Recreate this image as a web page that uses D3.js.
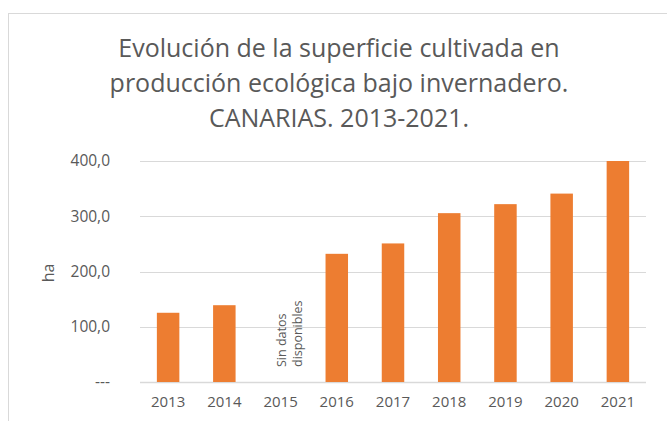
<!DOCTYPE html>
<html>
<head>
<meta charset="utf-8">
<script src="https://cdn.jsdelivr.net/npm/d3@7"></script>
<style>
  body { margin: 0; background: #fff; }
  svg text { font-family: "Open Sans", "Noto Sans", sans-serif; fill: #595959; }
</style>
</head>
<body>
<div id="chart"></div>
<script>
var years = ["2013", "2014", "2015", "2016", "2017", "2018", "2019", "2020", "2021"];
var hectares = [125.3, 139.0, null, 232.0, 250.8, 305.6, 321.9, 341.0, 400.0];
var yTicks = [0, 100, 200, 300, 400];
var titleLines = ["Evolución de la superficie cultivada en",
                  "producción ecológica bajo invernadero.",
                  "CANARIAS. 2013-2021."];
var noDataLines = ["Sin datos", "disponibles"];

var width = 667, height = 421;
var plot = { left: 140, right: 646, top: 161, bottom: 382 };

var svg = d3.select("#chart").append("svg")
    .attr("width", width)
    .attr("height", height);

// marco del grafico
svg.append("rect")
    .attr("x", 8.5).attr("y", 13.5)
    .attr("width", 700).attr("height", 450)
    .attr("fill", "#fff")
    .attr("stroke", "#d9d9d9");

// titulo
svg.append("g").selectAll("text")
    .data(titleLines)
    .enter().append("text")
    .attr("x", 339)
    .attr("y", function (d, i) { return 57 + i * 35; })
    .attr("text-anchor", "middle")
    .attr("font-size", "25px")
    .text(function (d) { return d; });

var x = d3.scaleBand()
    .domain(years)
    .range([plot.left, plot.right])
    .paddingInner(0.6)
    .paddingOuter(0.3);

var y = d3.scaleLinear()
    .domain([0, 400])
    .range([plot.bottom, plot.top]);

// lineas de division
svg.append("g").selectAll("line")
    .data(yTicks)
    .enter().append("line")
    .attr("x1", plot.left).attr("x2", plot.right)
    .attr("y1", function (d) { return Math.round(y(d)) + 0.5; })
    .attr("y2", function (d) { return Math.round(y(d)) + 0.5; })
    .attr("stroke", "#d9d9d9")
    .attr("stroke-width", function (d) { return d === 0 ? 1.5 : 1; });

// eje y
var yAxis = d3.axisLeft(y)
    .tickValues(yTicks)
    .tickSize(0)
    .tickPadding(30)
    .tickFormat(function (d) { return d === 0 ? "---" : d3.format(".1f")(d).replace(".", ","); });

svg.append("g")
    .attr("transform", "translate(" + plot.left + ",0)")
    .call(yAxis)
    .call(function (g) { g.select(".domain").remove(); })
    .selectAll("text")
    .attr("font-size", "15.5px")
    .style("font-family", "'Open Sans', sans-serif")
    .attr("fill", "#595959");

// eje x
var xAxis = d3.axisBottom(x).tickSize(0).tickPadding(14);
svg.append("g")
    .attr("transform", "translate(0," + plot.bottom + ")")
    .call(xAxis)
    .call(function (g) { g.select(".domain").remove(); })
    .selectAll("text")
    .attr("font-size", "15px")
    .style("font-family", "'Open Sans', sans-serif")
    .attr("fill", "#595959");

// barras
svg.append("g").selectAll("rect")
    .data(years.map(function (d, i) { return { year: d, value: hectares[i] }; })
        .filter(function (d) { return d.value !== null; }))
    .enter().append("rect")
    .attr("x", function (d) { return x(d.year); })
    .attr("y", function (d) { return y(d.value); })
    .attr("width", x.bandwidth())
    .attr("height", function (d) { return y(0) - y(d.value); })
    .attr("fill", "#ed7d31");

// etiqueta sin datos
var noData = years[hectares.indexOf(null)];
svg.append("text")
    .attr("transform", "translate(" + (x(noData) + x.bandwidth() / 2 + 5.5) + ",367) rotate(-90)")
    .attr("font-size", "12.5px")
    .selectAll("tspan")
    .data(noDataLines)
    .enter().append("tspan")
    .attr("x", 0)
    .attr("dy", function (d, i) { return i === 0 ? 0 : 16; })
    .text(function (d) { return d; });

// titulo eje y
svg.append("text")
    .attr("transform", "translate(54,273) rotate(-90)")
    .attr("text-anchor", "middle")
    .attr("font-size", "16px")
    .text("ha");
</script>
</body>
</html>
